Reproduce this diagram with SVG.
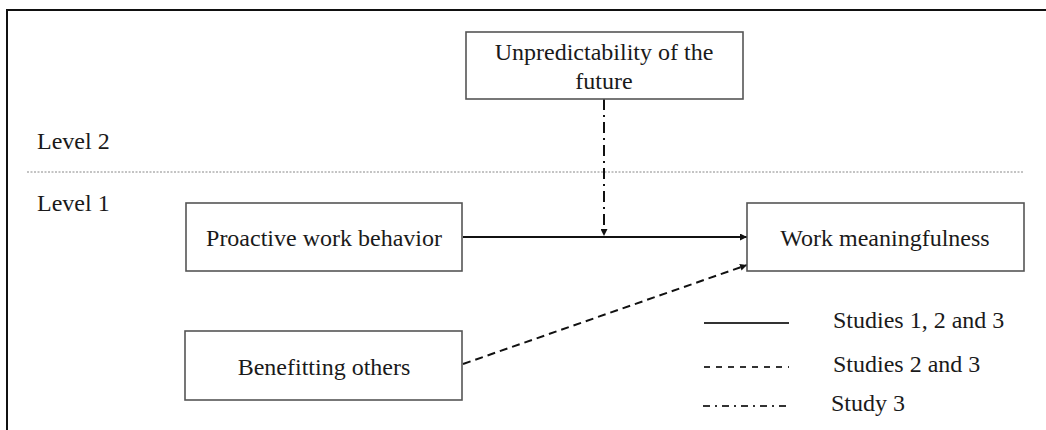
<svg xmlns="http://www.w3.org/2000/svg" width="1046" height="430" viewBox="0 0 1046 430">
  <defs>
    <marker id="tip" viewBox="0 0 10 10" refX="10" refY="5" markerWidth="7" markerHeight="7" markerUnits="userSpaceOnUse" orient="auto">
      <path d="M0,0 L10,5 L0,10 Z" fill="#111"/>
    </marker>
    <style>
      .box { fill: #fff; stroke: #555; stroke-width: 1.6; }
      .lbl { font-family: "Liberation Serif", "Times New Roman", serif; font-size: 24px; fill: #1a1a1a; }
      .mid { text-anchor: middle; }
      .solid { stroke: #111; stroke-width: 2; fill: none; }
      .dashed { stroke: #111; stroke-width: 2; fill: none; stroke-dasharray: 8 5; }
      .dashdot { stroke: #111; stroke-width: 2; fill: none; stroke-dasharray: 11 5 2 5; }
    </style>
  </defs>

  <rect width="1046" height="430" fill="#fff"/>

  <!-- frame: top and left edges only -->
  <path d="M7,430 V10 H1046" fill="none" stroke="#111" stroke-width="2"/>

  <!-- level separator -->
  <line x1="27" y1="172" x2="1023" y2="172" stroke="#888" stroke-width="1" stroke-dasharray="2 1.5"/>
  <text class="lbl" x="37" y="149">Level 2</text>
  <text class="lbl" x="37" y="211">Level 1</text>

  <g id="connectors">
    <line class="solid" x1="463" y1="237" x2="747" y2="237" marker-end="url(#tip)"/>
    <line class="dashdot" x1="604" y1="99" x2="604" y2="236" marker-end="url(#tip)"/>
    <line class="dashed" x1="463" y1="364" x2="747" y2="265" marker-end="url(#tip)"/>
  </g>

  <g id="node-unpredictability">
    <rect class="box" x="466" y="32" width="277" height="67"/>
    <text class="lbl mid" x="604" y="60">Unpredictability of the</text>
    <text class="lbl mid" x="604" y="89">future</text>
  </g>

  <g id="node-proactive">
    <rect class="box" x="186" y="203" width="276" height="68"/>
    <text class="lbl mid" x="324" y="246">Proactive work behavior</text>
  </g>

  <g id="node-meaningfulness">
    <rect class="box" x="747" y="203" width="277" height="68"/>
    <text class="lbl mid" x="885" y="246">Work meaningfulness</text>
  </g>

  <g id="node-benefitting">
    <rect class="box" x="185" y="331" width="277" height="69"/>
    <text class="lbl mid" x="324" y="375">Benefitting others</text>
  </g>

  <g id="legend">
    <line x1="704" y1="323" x2="789" y2="323" stroke="#333" stroke-width="2"/>
    <text class="lbl" x="833" y="328">Studies 1, 2 and 3</text>
    <line x1="704" y1="367" x2="789" y2="367" stroke="#333" stroke-width="2" stroke-dasharray="6 6"/>
    <text class="lbl" x="833" y="372">Studies 2 and 3</text>
    <line x1="703" y1="406" x2="789" y2="406" stroke="#333" stroke-width="2" stroke-dasharray="7 5 2 5"/>
    <text class="lbl" x="831" y="411">Study 3</text>
  </g>
</svg>
